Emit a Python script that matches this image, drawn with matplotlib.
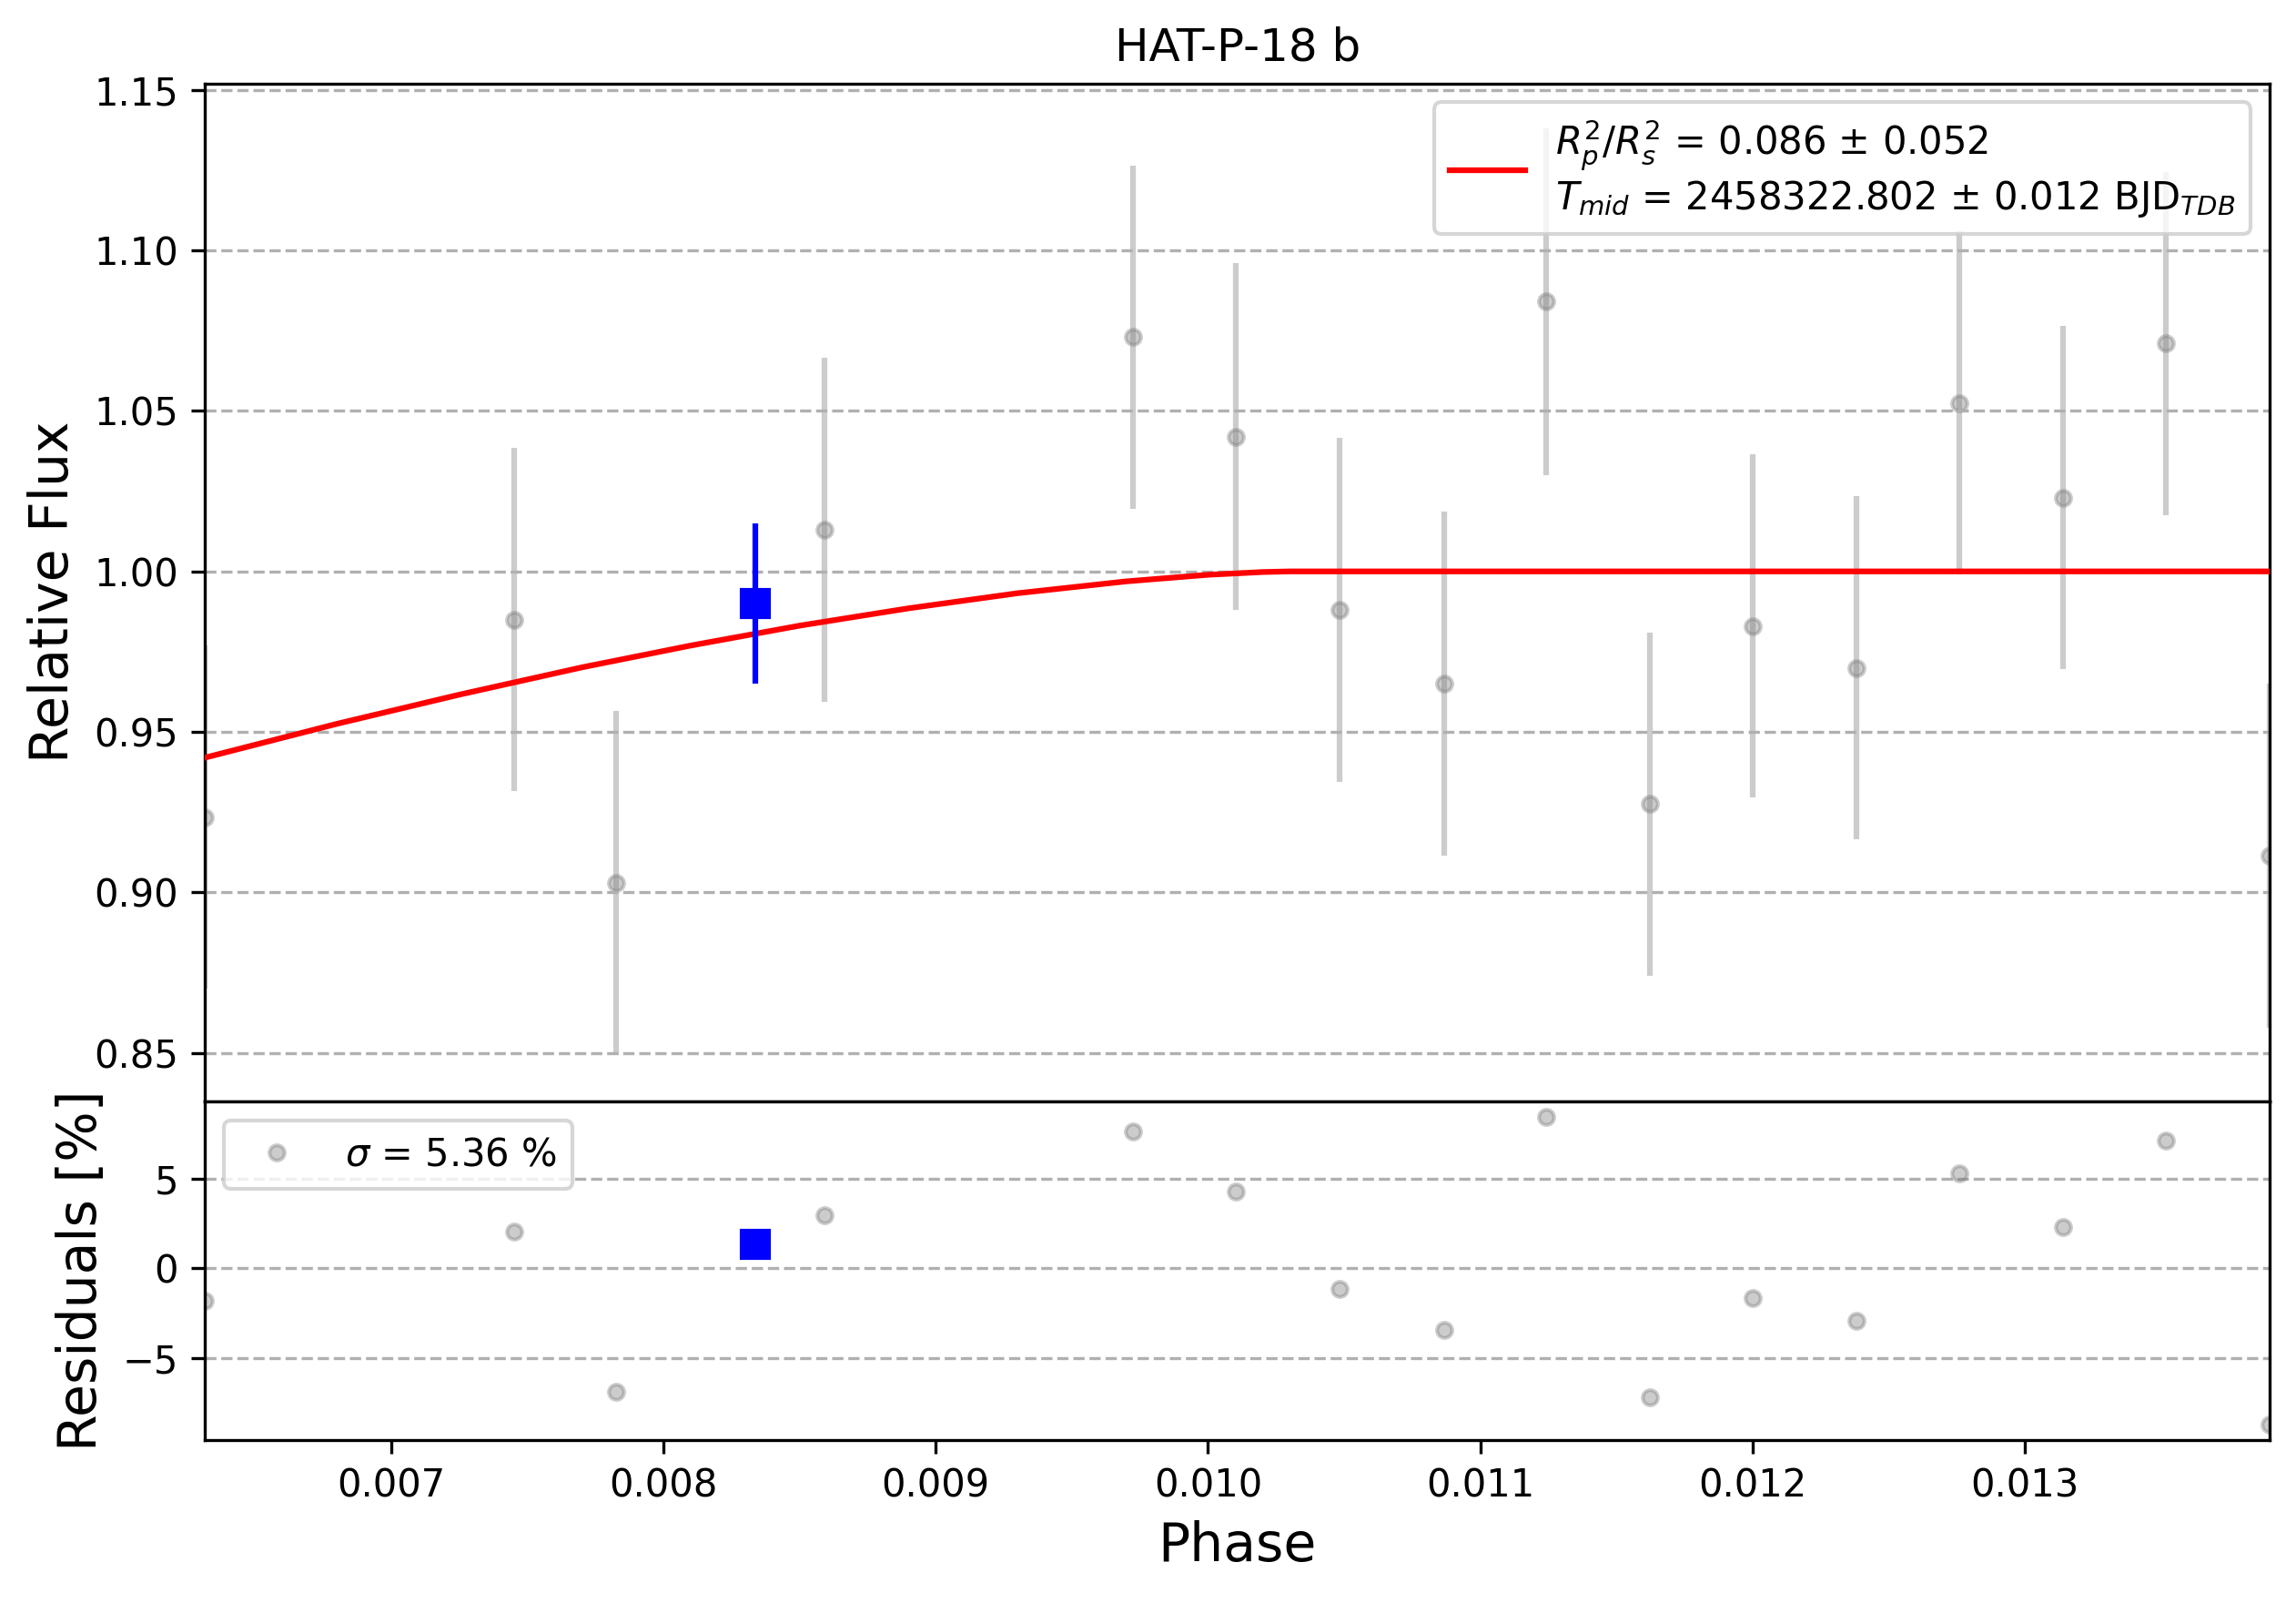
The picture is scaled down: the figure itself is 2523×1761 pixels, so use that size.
import matplotlib
matplotlib.use("Agg")
import matplotlib.pyplot as plt

# ---- data ----
phase = [0.006317, 0.007452, 0.007828, 0.008591, 0.009726, 0.010102, 0.010484,
         0.010866, 0.011242, 0.011624, 0.012000, 0.012382, 0.012758, 0.013140,
         0.013516, 0.013898]
flux = [0.9235, 0.9850, 0.9030, 1.0130, 1.0730, 1.0420, 0.9880, 0.9650, 1.0840,
        0.9275, 0.9830, 0.9700, 1.0525, 1.0230, 1.0710, 0.9115]
flux_err = [0.0535, 0.0535, 0.0535, 0.0535, 0.0535, 0.0540, 0.0535, 0.0535,
            0.0540, 0.0535, 0.0535, 0.0535, 0.0535, 0.0535, 0.0535, 0.0535]
residuals = [-1.8, 2.05, -6.9, 2.95, 7.6, 4.25, -1.15, -3.45, 8.45, -7.2, -1.65,
             -2.95, 5.3, 2.3, 7.1, -8.75]

model_phase = [0.006317, 0.0068, 0.00725, 0.0077, 0.0081, 0.0085, 0.0089, 0.0093,
               0.0097, 0.0100, 0.0102, 0.0103, 0.013898]
model_flux = [0.9420, 0.9525, 0.9616, 0.9701, 0.9769, 0.9831, 0.9885, 0.9932,
              0.9969, 0.99895, 0.9998, 1.0000, 1.0000]

bin_phase = [0.008339]
bin_flux = [0.9900]
bin_err = [0.0250]
bin_res = [1.35]

title = "HAT-P-18 b"
fit_label = (r"$R^{2}_{p}/R^{2}_{s}$ = 0.086 ± 0.052" + "\n"
             + r"$T_{mid}$ = 2458322.802 ± 0.012 BJD$_{TDB}$")
res_label = r"$\sigma$ = 5.36 %"

# ---- figure ----
fig = plt.figure(figsize=(2523 / 300, 1761 / 300), dpi=300)
gs = fig.add_gridspec(2, 1, height_ratios=[3, 1], hspace=0,
                      left=0.0893, right=0.9885, top=0.948, bottom=0.1014)
ax = fig.add_subplot(gs[0])
axr = fig.add_subplot(gs[1], sharex=ax)

ax.errorbar(phase, flux, yerr=flux_err, ls='none', marker='o', color='gray',
            markersize=4, alpha=0.4, zorder=1)
ax.plot(model_phase, model_flux, color='r', lw=1.5, label=fit_label, zorder=3)
ax.errorbar(bin_phase, bin_flux, yerr=bin_err, ls='none', marker='s',
            color='blue', markersize=7, zorder=4)

ax.set_title(title, fontsize=12)
ax.set_ylabel("Relative Flux", fontsize=14)
ax.set_xlim(min(phase), max(phase))
ax.set_ylim(0.835, 1.152)
ax.grid(True, axis='y', ls='--')
ax.tick_params(axis='x', bottom=False, labelbottom=False)
ax.legend(loc='upper right', fontsize=10)

axr.plot(phase, residuals, ls='none', marker='o', color='gray', markersize=4,
         alpha=0.4, label=res_label)
axr.plot(bin_phase, bin_res, ls='none', marker='s', color='blue', markersize=7)
axr.set_ylabel("Residuals [%]", fontsize=14)
axr.set_xlabel("Phase", fontsize=14)
axr.grid(True, axis='y', ls='--')
axr.legend(loc='upper left', fontsize=10)

fig.savefig("out.png", dpi=300)
